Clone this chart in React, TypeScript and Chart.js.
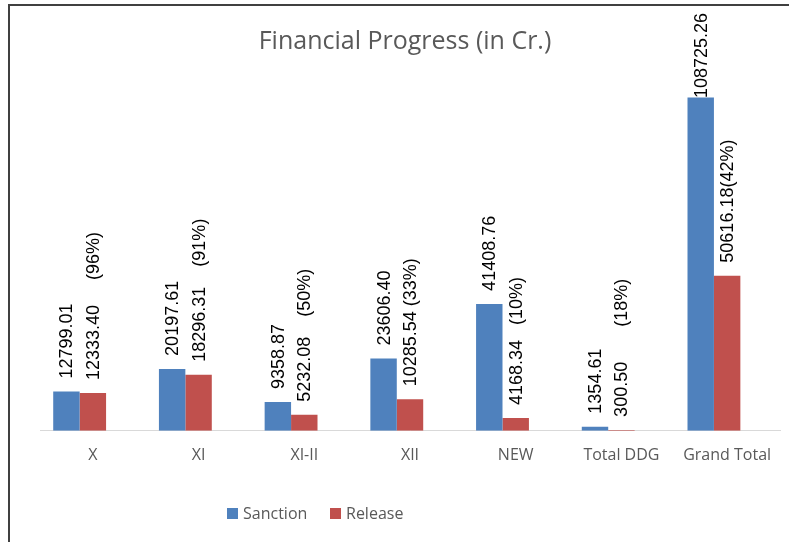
import React, { useEffect, useRef } from "react";
import { Chart, registerables } from "chart.js";

Chart.register(...registerables);

const categories = ["X", "XI", "XI-II", "XII", "NEW", "Total DDG", "Grand Total"];
const sanction = [12799.01, 20197.61, 9358.87, 23606.4, 41408.76, 1354.61, 108725.26];
const release = [12333.4, 18296.31, 5232.08, 10285.54, 4168.34, 300.5, 50616.18];
const padSeries = [0, 0, 0, 0, 0, 0, 0];
const sanctionLabels = ["12799.01", "20197.61", "9358.87", "23606.40", "41408.76", "1354.61", "108725.26"];
const releaseLabels = [
  "12333.40     (96%)",
  "18296.31    (91%)",
  "5232.08    (50%)",
  "10285.54 (33%)",
  "4168.34   (10%)",
  "300.50       (18%)",
  "50616.18(42%)",
];
const yMax = 120000;

const SANCTION_COLOR = "#4F81BD";
const RELEASE_COLOR = "#C0504D";
const TEXT_GRAY = "#595959";

const labelPlugin = {
  id: "barLabels",
  afterDatasetsDraw(chart: any) {
    const ctx = chart.ctx;
    const sets = [sanctionLabels, releaseLabels];
    ctx.save();
    ctx.font = "18px 'Liberation Sans'";
    ctx.fillStyle = "#000";
    ctx.textAlign = "left";
    ctx.textBaseline = "middle";
    sets.forEach((labels, di) => {
      const meta = chart.getDatasetMeta(di);
      meta.data.forEach((bar: any, i: number) => {
        const text = labels[i];
        const w = ctx.measureText(text).width;
        let y = bar.y - 13;
        const minTop = 13;
        if (y - w < minTop) y = minTop + w;
        ctx.save();
        ctx.translate(bar.x + 1, y);
        ctx.rotate(-Math.PI / 2);
        ctx.fillText(text, 0, 0);
        ctx.restore();
      });
    });
    ctx.restore();
  },
};

export default function App() {
  const ref = useRef<HTMLCanvasElement | null>(null);

  useEffect(() => {
    if (!ref.current) return;
    const chart = new Chart(ref.current, {
      type: "bar",
      data: {
        labels: categories,
        datasets: [
          { label: "Sanction", data: sanction, backgroundColor: SANCTION_COLOR, borderWidth: 0 },
          { label: "Release", data: release, backgroundColor: RELEASE_COLOR, borderWidth: 0 },
          { label: "", data: padSeries, backgroundColor: "rgba(0,0,0,0)", borderWidth: 0 },
        ],
      },
      options: {
        responsive: false,
        animation: false,
        events: [],
        datasets: { bar: { categoryPercentage: 0.75, barPercentage: 1 } },
        layout: { padding: { left: 30, right: 9, top: 0, bottom: 62 } },
        plugins: {
          legend: { display: false },
          tooltip: { enabled: false },
          title: {
            display: true,
            text: "Financial Progress (in Cr.)",
            color: TEXT_GRAY,
            font: { family: "'Open Sans'", size: 25, weight: "normal" },
            padding: { top: 27, bottom: 6 },
          },
        },
        scales: {
          x: {
            grid: { display: false, drawTicks: false },
            border: { display: true, color: "#D9D9D9", width: 1 },
            ticks: {
              color: TEXT_GRAY,
              font: { family: "'Open Sans'", size: 16 },
              padding: 15,
              autoSkip: false,
              maxRotation: 0,
            },
          },
          y: {
            display: true,
            min: 0,
            max: yMax,
            grid: { display: false, drawTicks: false },
            border: { display: false },
            ticks: { display: false },
            afterFit: (scale: any) => {
              scale.width = 10;
            },
          },
        },
      },
      plugins: [labelPlugin],
    });
    return () => chart.destroy();
  }, []);

  const legendItem = (color: string, text: string, left: number) => (
    <div style={{ position: "absolute", left, top: 503, display: "flex", alignItems: "center", fontFamily: "'Open Sans'", fontSize: 16, color: TEXT_GRAY, lineHeight: "20px" }}>
      <span style={{ display: "inline-block", width: 11, height: 11, background: color, marginRight: 5 }} />
      <span>{text}</span>
    </div>
  );

  return (
    <div style={{ position: "absolute", left: 0, top: 0, width: 789, height: 542, overflow: "hidden", background: "#fff" }}>
      <div style={{ position: "absolute", left: 8, top: 4, width: 900, height: 700, borderLeft: "2px solid #404040", borderTop: "2px solid #404040" }} />
      <canvas ref={ref} width={789} height={542} style={{ position: "absolute", left: 0, top: 0 }} />
      {legendItem(SANCTION_COLOR, "Sanction", 227)}
      {legendItem(RELEASE_COLOR, "Release", 330)}
    </div>
  );
}
